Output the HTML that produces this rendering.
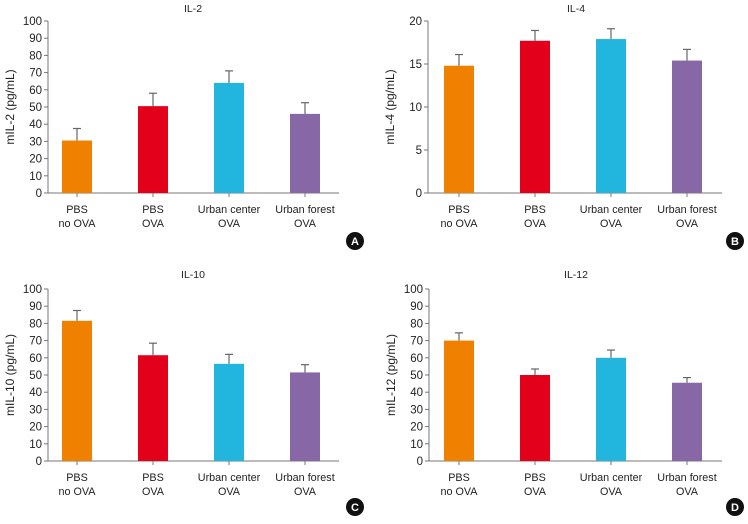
<!DOCTYPE html>
<html><head><meta charset="utf-8"><style>
body{margin:0;background:#fff;font-family:"Liberation Sans",sans-serif}
svg text{font-family:"Liberation Sans",sans-serif;fill:#222}
</style></head><body>
<svg id="c" width="748" height="519" viewBox="0 0 748 519" xmlns="http://www.w3.org/2000/svg"></svg>
<script>
const categories = [["PBS","no OVA"],["PBS","OVA"],["Urban center","OVA"],["Urban forest","OVA"]];
const colors = ["#f08000","#e2001a","#22b5dd","#8767a6"];
const il2Values = [30.5, 50.5, 64, 46];
const il2Errors = [7, 7.5, 7, 6.5];
const il4Values = [14.8, 17.7, 17.9, 15.4];
const il4Errors = [1.3, 1.2, 1.2, 1.3];
const il10Values = [81.5, 61.5, 56.5, 51.5];
const il10Errors = [6, 7, 5.5, 4.5];
const il12Values = [70, 50, 60, 45.5];
const il12Errors = [4.5, 3.5, 4.5, 3];
const ticks100 = [0,10,20,30,40,50,60,70,80,90,100];
const ticks20 = [0,5,10,15,20];

const panels = [
 {id:"il-2",title:"IL-2",ylab:"mIL-2 (pg/mL)",vals:il2Values,errs:il2Errors,ticks:ticks100,max:100,ax:48,top:21,zero:193,xend:339,c0:77,letter:"A",lx:355,ly:241,tx:193,ty:12},
 {id:"il-4",title:"IL-4",ylab:"mIL-4 (pg/mL)",vals:il4Values,errs:il4Errors,ticks:ticks20,max:20,ax:428,top:21,zero:193,xend:722,c0:459,letter:"B",lx:735,ly:241,tx:576,ty:12},
 {id:"il-10",title:"IL-10",ylab:"mIL-10 (pg/mL)",vals:il10Values,errs:il10Errors,ticks:ticks100,max:100,ax:48,top:289,zero:461,xend:339,c0:77,letter:"C",lx:355,ly:507,tx:193,ty:278},
 {id:"il-12",title:"IL-12",ylab:"mIL-12 (pg/mL)",vals:il12Values,errs:il12Errors,ticks:ticks100,max:100,ax:429,top:289,zero:461,xend:722,c0:459,letter:"D",lx:735,ly:507,tx:576,ty:278}
];
const svg = document.getElementById('c');
const NS = "http://www.w3.org/2000/svg";
function mk(tag, attrs, parent, text){
  const e = document.createElementNS(NS, tag);
  for (const k in attrs) e.setAttribute(k, attrs[k]);
  if (text !== undefined) e.textContent = text;
  parent.appendChild(e); return e;
}
panels.forEach(p=>{
  const g = mk('g',{},svg);
  
  
  const y = v => p.zero - (v/p.max)*(p.zero-p.top);
  const x = i => p.c0 + i*76;
  const t = mk('text',{x:p.tx,y:p.ty,'font-size':10.5,'text-anchor':'middle'},g,p.title);
  
  
  const yl = mk('text',{x:0,y:0,'font-size':12,'text-anchor':'middle',transform:`translate(${p.ax-34},${(p.top+p.zero)/2}) rotate(-90)`},g,p.ylab);
  
  
  mk('line',{x1:p.ax,y1:p.top,x2:p.ax,y2:p.zero,stroke:'#777','stroke-width':1},g);
  mk('line',{x1:p.ax,y1:p.zero,x2:p.xend,y2:p.zero,stroke:'#777','stroke-width':1},g);
  p.ticks.forEach(tv=>{
    mk('line',{x1:p.ax-4,y1:y(tv),x2:p.ax,y2:y(tv),stroke:'#777'},g);
    const tl = mk('text',{x:p.ax-6,y:y(tv)+4,'font-size':11.5,'text-anchor':'end'},g,tv);
    
    
  });
  p.vals.forEach((v,i)=>{
    const cx = x(i);
    mk('line',{x1:cx,y1:p.zero,x2:cx,y2:p.zero+4,stroke:'#777'},g);
    const e = v + p.errs[i];
    mk('line',{x1:cx,y1:y(v),x2:cx,y2:y(e),stroke:'#666','stroke-width':1.2},g);
    mk('line',{x1:cx-4,y1:y(e),x2:cx+4,y2:y(e),stroke:'#666','stroke-width':1.2},g);
    const b = mk('rect',{x:cx-15,y:y(v),width:30,height:p.zero-y(v),fill:colors[i]},g);
    
    
    categories[i].forEach((ln,k)=>{
      const cl = mk('text',{x:cx,y:p.zero+20+k*14,'font-size':10.8,'text-anchor':'middle'},g,ln);
      
      
    });
  });
  mk('circle',{cx:p.lx,cy:p.ly,r:9,fill:'#111'},g);
  const L = mk('text',{x:p.lx,y:p.ly+4,'font-size':11,'font-weight':'bold','text-anchor':'middle',style:'fill:#fff'},g,p.letter);
  
  
});
</script>
</body></html>
